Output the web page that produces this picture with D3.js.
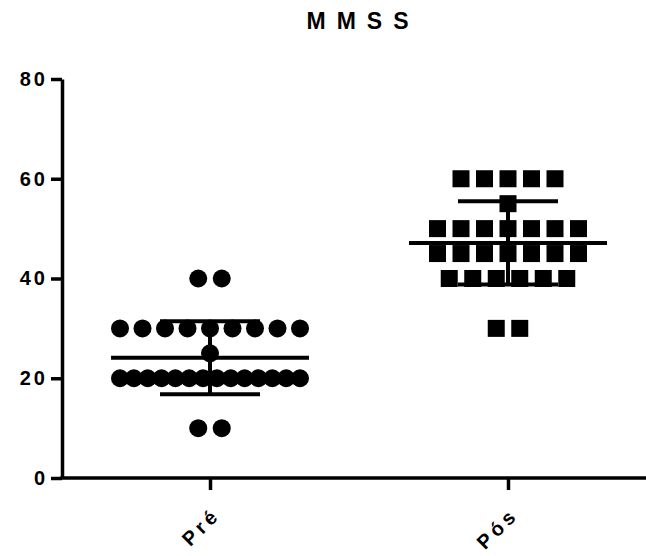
<!DOCTYPE html>
<html lang="en">
<head>
<meta charset="utf-8">
<title>MMSS</title>
<script src="https://d3js.org/d3.v7.min.js"></script>
<style>
body{margin:0;background:#fff;overflow:hidden;}
svg{display:block;font-family:"Liberation Sans",Arial,sans-serif;font-weight:bold;}
</style>
</head>
<body>
<svg width="646" height="556"></svg>
<script>
// values (28 subjects per group)
var groups = ["Pré", "Pós"];
var preValues = [40,40,
  30,30,30,30,30,30,30,30,30,
  25,
  20,20,20,20,20,20,20,20,20,20,20,20,20,20,
  10,10];
var posValues = [60,60,60,60,60,
  55,
  50,50,50,50,50,50,50,
  45,45,45,45,45,45,45,
  40,40,40,40,40,40,
  30,30];
var yTicks = [0, 20, 40, 60, 80];
var title = "MMSS";

var svg = d3.select("svg");

var y = d3.scaleLinear().domain([0, 80]).range([478, 79]);
var x = d3.scalePoint().domain(groups).range([210, 508]);

var xLeft = 62, xRight = 646;

// title
svg.append("text")
    .attr("x", 363).attr("y", 29)
    .attr("text-anchor", "middle")
    .style("font-size", "23px")
    .style("letter-spacing", "11px")
    .text(title);

// y axis
var yAxis = svg.append("g")
    .attr("transform", "translate(" + xLeft + ",0)")
    .call(d3.axisLeft(y).tickValues(yTicks).tickSize(11).tickSizeOuter(0).tickPadding(6));
yAxis.select(".domain").attr("stroke-width", 3.5);
yAxis.selectAll(".tick line").attr("stroke-width", 3.5);
yAxis.selectAll(".tick text")
    .style("font-size", "20px")
    .style("letter-spacing", "3px")
    .attr("dx", "3px")
    .attr("fill", "#000");

// x axis: line across, ticks at the two groups
svg.append("line")
    .attr("x1", xLeft - 1.75).attr("x2", xRight)
    .attr("y1", y(0)).attr("y2", y(0))
    .attr("stroke", "#000").attr("stroke-width", 3.5);

var xAxis = svg.append("g")
    .attr("transform", "translate(0," + y(0) + ")")
    .call(d3.axisBottom(x).tickSize(12).tickSizeOuter(0));
xAxis.select(".domain").remove();
xAxis.selectAll(".tick line").attr("stroke-width", 3.5);
xAxis.selectAll(".tick text")
    .style("font-size", "20px")
    .style("letter-spacing", "4px")
    .attr("text-anchor", "end")
    .attr("fill", "#000")
    .attr("dy", 0)
    .attr("y", 0)
    .attr("transform", "translate(11,38) rotate(-45)");

// lay points of equal value side by side, squeezed when the row is long
function swarm(values) {
  var rows = d3.group(values, function(d) { return d; });
  var out = [];
  rows.forEach(function(row, v) {
    var n = row.length;
    var step = n > 1 ? Math.min(23.5, 180 / (n - 1)) : 0;
    row.forEach(function(d, i) {
      out.push({value: v, off: (i - (n - 1) / 2) * step});
    });
  });
  return out;
}

var preG = svg.append("g");
preG.selectAll("circle")
  .data(swarm(preValues))
  .join("circle")
    .attr("cx", function(d) { return x("Pré") + d.off; })
    .attr("cy", function(d) { return y(d.value); })
    .attr("r", 9)
    .attr("fill", "#000");

var posG = svg.append("g");
var sq = 17;
posG.selectAll("rect")
  .data(swarm(posValues))
  .join("rect")
    .attr("x", function(d) { return x("Pós") + d.off - sq / 2; })
    .attr("y", function(d) { return y(d.value) - sq / 2; })
    .attr("width", sq).attr("height", sq)
    .attr("fill", "#000");

// mean and SD
function stats(g, values) {
  var m = d3.mean(values), s = d3.deviation(values);
  var cx = x(g);
  var grp = svg.append("g").attr("stroke", "#000").attr("stroke-width", 4);
  grp.append("line").attr("x1", cx - 99).attr("x2", cx + 99)
      .attr("y1", y(m)).attr("y2", y(m));
  grp.append("line").attr("x1", cx).attr("x2", cx)
      .attr("y1", y(m - s)).attr("y2", y(m + s));
  [m - s, m + s].forEach(function(v) {
    grp.append("line").attr("x1", cx - 50).attr("x2", cx + 50)
        .attr("y1", y(v)).attr("y2", y(v));
  });
}
stats("Pré", preValues);
stats("Pós", posValues);
</script>
</body>
</html>
